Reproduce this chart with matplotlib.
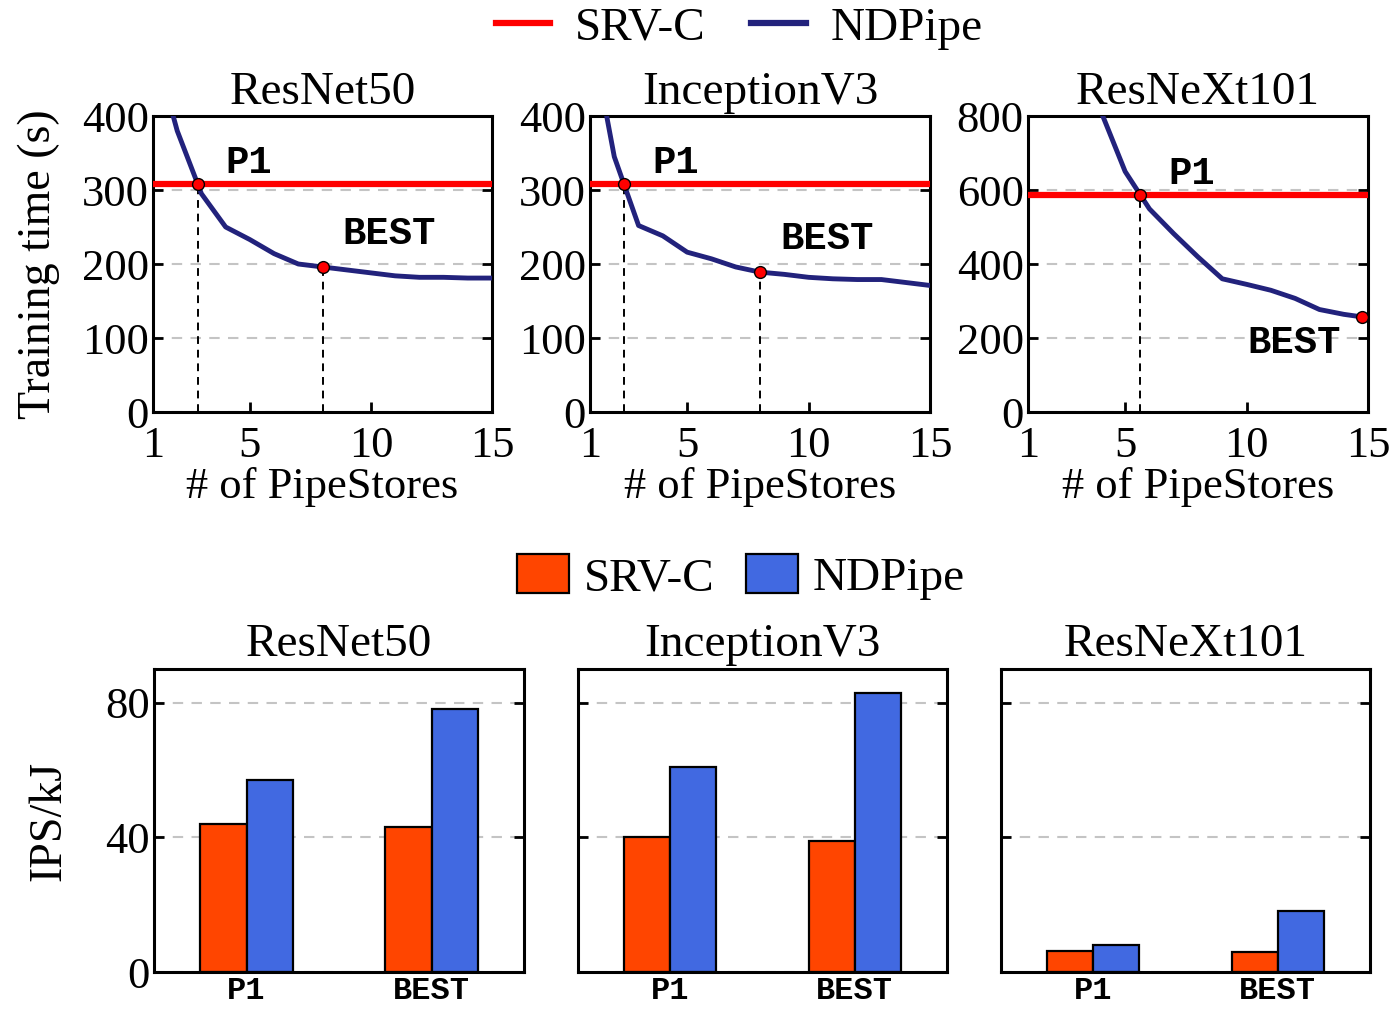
import matplotlib
matplotlib.use("Agg")
import matplotlib.pyplot as plt
from matplotlib.lines import Line2D
from matplotlib.patches import Patch
import numpy as np

# Data
models = ["ResNet50", "InceptionV3", "ResNeXt101"]
stores_res50 = [1, 2, 3, 4, 5, 6, 7, 8, 9, 10, 11, 12, 13, 14, 15]
time_res50 = [500, 380, 295, 250, 233, 214, 200, 196, 192, 188, 184, 182, 182, 181, 181]
stores_incv3 = [1, 2, 3, 4, 5, 6, 7, 8, 9, 10, 11, 12, 13, 14, 15]
time_incv3 = [520, 345, 252, 238, 216, 207, 196, 189, 186, 182, 180, 179, 179, 175, 171]
stores_rnx = [1, 2, 3, 4, 5, 6, 7, 8, 9, 10, 11, 12, 13, 14, 14.75]
time_rnx = [1480, 1210, 990, 813, 650, 549, 482, 419, 360, 345, 329, 307, 277, 264, 257]
srv_time = [308, 308, 587]
best_stores = [8, 8, 14.75]

bar_groups = ["P1", "BEST"]
ips_srv = [[44, 43], [40, 39], [6.2, 6.0]]
ips_ndpipe = [[57, 78], [61, 83], [8, 18]]

stores = [stores_res50, stores_incv3, stores_rnx]
times = [time_res50, time_incv3, time_rnx]
ylims = [400, 400, 800]

SERIF = "Liberation Serif"
MONO = "Liberation Mono"
FS = 32
plt.rcParams["font.family"] = SERIF
plt.rcParams["font.size"] = FS

C_SRV = "#ff0000"
C_ND = "#22227c"
C_SRV_BAR = "#ff4500"
C_ND_BAR = "#4169e1"

W, H = 1393, 1013
fig = plt.figure(figsize=(W / 100, H / 100), dpi=100)


def px_axes(x0, x1, y0, y1):
    return fig.add_axes([x0 / W, (H - y1) / H, (x1 - x0) / W, (y1 - y0) / H])


def style(ax):
    for s in ax.spines.values():
        s.set_linewidth(2.2)
    ax.tick_params(direction="in", length=7, width=2, labelsize=FS)
    ax.tick_params(axis="y", right=True, pad=3)
    ax.set_axisbelow(True)
    ax.yaxis.grid(True, linestyle=(0, (5, 4)), color="#c4c4c4", linewidth=1.5)


top_x = [(153, 492), (590, 930), (1028, 1368)]
p1_off = (37, 15)
best_off = [(48, 24), (48, 24), (-49, -19)]

for i in range(3):
    ax = px_axes(top_x[i][0], top_x[i][1], 116, 412)
    style(ax)
    x = np.array(stores[i], dtype=float)
    y = np.array(times[i], dtype=float)
    ax.axhline(srv_time[i], color=C_SRV, linewidth=4.5, zorder=3)
    ax.plot(x, y, color=C_ND, linewidth=3.5, zorder=4)

    p1x = np.interp(srv_time[i], y[::-1], x[::-1])
    bx = best_stores[i]
    by = np.interp(bx, x, y)
    ax.plot([p1x, p1x], [0, srv_time[i]], color="black", linestyle=(0, (4, 3)),
            linewidth=1.4, zorder=2)
    if i < 2:
        ax.plot([bx, bx], [0, by], color="black", linestyle=(0, (4, 3)),
                linewidth=1.4, zorder=2)
    ax.plot([p1x, bx], [srv_time[i], by], linestyle="none", marker="o", markersize=8.5,
            markerfacecolor="red", markeredgecolor="black", markeredgewidth=1, zorder=5)
    ax.annotate("P1", (p1x, srv_time[i]), xytext=p1_off, textcoords="offset points",
                ha="center", va="center", family=MONO, weight="bold", fontsize=28)
    ax.annotate("BEST", (bx, by), xytext=best_off[i], textcoords="offset points",
                ha="center", va="center", family=MONO, weight="bold", fontsize=28)

    ax.set_xlim(1, 15)
    ax.set_ylim(0, ylims[i])
    ax.set_xticks([1, 5, 10, 15])
    ax.set_yticks(np.linspace(0, ylims[i], 5))
    ax.tick_params(axis="x", pad=10)
    ax.set_xlabel("# of PipeStores", labelpad=1)
    ax.set_title(models[i], pad=9, fontsize=34)
    if i == 0:
        ax.set_ylabel("Training time (s)", fontsize=33)
        ax.yaxis.set_label_coords(-0.275, 0.5)

fig.legend(handles=[Line2D([], [], color=C_SRV, linewidth=4.5, label="SRV-C"),
                    Line2D([], [], color=C_ND, linewidth=4.5, label="NDPipe")],
           loc="center", bbox_to_anchor=(0.5305, 0.972), ncol=2, frameon=False,
           handlelength=1.16, handletextpad=0.51, columnspacing=0.98, fontsize=34)

bot_x = [(154, 524), (578, 947), (1001, 1370)]
pos = np.arange(len(bar_groups))
bw = 0.25
for i in range(3):
    ax = px_axes(bot_x[i][0], bot_x[i][1], 669, 972)
    style(ax)
    ax.bar(pos - bw / 2, ips_srv[i], bw, color=C_SRV_BAR, edgecolor="black", linewidth=1.6)
    ax.bar(pos + bw / 2, ips_ndpipe[i], bw, color=C_ND_BAR, edgecolor="black", linewidth=1.6)
    ax.set_xlim(-0.5, 1.5)
    ax.set_ylim(0, 90)
    ax.set_yticks([0, 40, 80])
    ax.set_xticks(pos)
    ax.set_xticklabels(bar_groups, family=MONO, weight="bold", fontsize=23)
    ax.tick_params(axis="x", length=0, pad=3)
    ax.set_title(models[i], pad=9, fontsize=34)
    if i == 0:
        ax.set_ylabel("IPS/kJ", fontsize=33)
        ax.yaxis.set_label_coords(-0.225, 0.5)
    else:
        ax.set_yticklabels([])

fig.legend(handles=[Patch(facecolor=C_SRV_BAR, edgecolor="black", linewidth=1.6, label="SRV-C"),
                    Patch(facecolor=C_ND_BAR, edgecolor="black", linewidth=1.6, label="NDPipe")],
           loc="center", bbox_to_anchor=(0.5318, 0.4304), ncol=2, frameon=False,
           handlelength=1.1, handleheight=0.91, handletextpad=0.31, columnspacing=0.67,
           fontsize=34)

fig.savefig("out.png", dpi=100)
